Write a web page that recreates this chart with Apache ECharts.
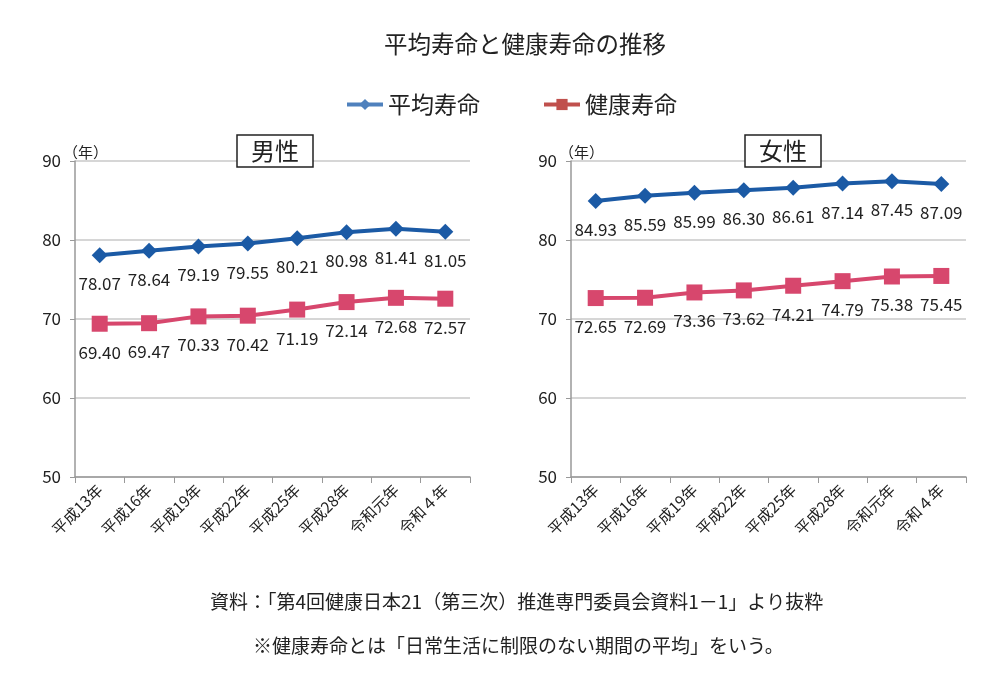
<!DOCTYPE html>
<html>
<head>
<meta charset="utf-8">
<script src="https://cdn.jsdelivr.net/npm/echarts@6/dist/echarts.min.js"></script>
<style>
html, body { margin: 0; padding: 0; background: #fff; }
#chart { width: 998px; height: 686px; }
</style>
</head>
<body>
<div id="chart"></div>
<script>
// 年次
const categories = ['平成13年', '平成16年', '平成19年', '平成22年', '平成25年', '平成28年', '令和元年', '令和４年']
// 男性
const maleLife = [78.07, 78.64, 79.19, 79.55, 80.21, 80.98, 81.41, 81.05]
const maleHealthy = [69.40, 69.47, 70.33, 70.42, 71.19, 72.14, 72.68, 72.57]
// 女性
const femaleLife = [84.93, 85.59, 85.99, 86.30, 86.61, 87.14, 87.45, 87.09]
const femaleHealthy = [72.65, 72.69, 73.36, 73.62, 74.21, 74.79, 75.38, 75.45]

const FONT = '"Noto Sans CJK JP", "Noto Sans", sans-serif'
const BLUE = '#1b5aa5'
const PINK = '#d7476d'
const TEXT = '#222'

const makeX = (gridIndex) => ({
    type: 'category',
    gridIndex,
    data: categories,
    boundaryGap: true,
    axisLine: { lineStyle: { color: '#999', width: 1.5 } },
    axisTick: { show: true, length: 6, lineStyle: { color: '#999' } },
    axisLabel: {
        rotate: 45,
        interval: 0,
        color: TEXT,
        fontSize: 15.5,
        fontFamily: FONT,
        margin: 10
    }
})

const makeY = (gridIndex) => ({
    type: 'value',
    gridIndex,
    min: 50,
    max: 90,
    interval: 10,
    axisLine: { show: true, lineStyle: { color: '#999', width: 1.5 } },
    axisTick: { show: true, length: 5, lineStyle: { color: '#999' } },
    axisLabel: { color: TEXT, fontSize: 17, fontFamily: FONT, margin: 14 },
    splitLine: { lineStyle: { color: '#c8c8c8', width: 1.5 } }
})

const makeSeries = (name, data, idx, color, symbol) => ({
    name,
    type: 'line',
    xAxisIndex: idx,
    yAxisIndex: idx,
    data,
    symbol,
    symbolSize: 16,
    lineStyle: { color, width: 4 },
    itemStyle: { color },
    label: {
        show: true,
        position: 'bottom',
        distance: 12,
        color: TEXT,
        fontSize: 17,
        fontFamily: FONT,
        formatter: (p) => p.value.toFixed(2)
    },
    animation: false
})

// 単位（年）
const unitLabel = (left) => ({
    type: 'text',
    left,
    top: 145,
    style: { text: '（年）', fontSize: 15, fontFamily: FONT, fill: TEXT }
})

const chart = echarts.init(document.getElementById('chart'))
chart.setOption({
    animation: false,
    textStyle: { fontFamily: FONT },
    title: [
        {
            text: '平均寿命と健康寿命の推移',
            left: 379,
            top: 27,
            textStyle: { fontSize: 23.5, fontWeight: 'normal', color: TEXT, fontFamily: FONT }
        },
        {
            text: '男性',
            left: 237,
            top: 135,
            padding: [4, 14, 4, 14],
            borderColor: TEXT,
            borderWidth: 1.5,
            backgroundColor: '#fff',
            textStyle: { fontSize: 24, fontWeight: 'normal', color: TEXT, fontFamily: FONT }
        },
        {
            text: '女性',
            left: 745,
            top: 135,
            padding: [4, 14, 4, 14],
            borderColor: TEXT,
            borderWidth: 1.5,
            backgroundColor: '#fff',
            textStyle: { fontSize: 24, fontWeight: 'normal', color: TEXT, fontFamily: FONT }
        }
    ],
    legend: {
        top: 88,
        left: 340,
        itemGap: 62,
        itemWidth: 36,
        itemHeight: 14,
        textStyle: { fontSize: 23, color: TEXT, fontFamily: FONT },
        data: [
            { name: '平均寿命', itemStyle: { color: '#4f81bd' }, lineStyle: { color: '#4f81bd', width: 4 } },
            { name: '健康寿命', itemStyle: { color: '#c0504d' }, lineStyle: { color: '#c0504d', width: 4 } }
        ]
    },
    grid: [
        { left: 75, top: 161, width: 395, height: 316 },
        { left: 571, top: 161, width: 395, height: 316 }
    ],
    xAxis: [makeX(0), makeX(1)],
    yAxis: [makeY(0), makeY(1)],
    series: [
        makeSeries('平均寿命', maleLife, 0, BLUE, 'diamond'),
        makeSeries('健康寿命', maleHealthy, 0, PINK, 'rect'),
        makeSeries('平均寿命', femaleLife, 1, BLUE, 'diamond'),
        makeSeries('健康寿命', femaleHealthy, 1, PINK, 'rect')
    ],
    graphic: [
        unitLabel(63),
        unitLabel(559),
        {
            type: 'text',
            left: 210,
            top: 592,
            style: {
                text: '資料：「第4回健康日本21（第三次）推進専門委員会資料1－1」より抜粋',
                fontSize: 19,
                fontFamily: FONT,
                fill: TEXT
            }
        },
        {
            type: 'text',
            left: 253,
            top: 636,
            style: {
                text: '※健康寿命とは「日常生活に制限のない期間の平均」をいう。',
                fontSize: 19,
                fontFamily: FONT,
                fill: TEXT
            }
        }
    ]
})
</script>
</body>
</html>
